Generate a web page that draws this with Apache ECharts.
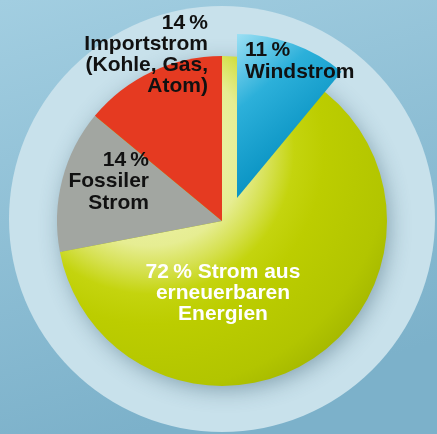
<!DOCTYPE html>
<html><head><meta charset="utf-8">
<script src="https://cdn.jsdelivr.net/npm/echarts@6/dist/echarts.min.js"></script>
<style>html,body{margin:0;padding:0;background:#8fc0d6;}#c{width:437px;height:434px;}</style>
</head><body><div id="c"></div>
<script>
// ---- data ----
const categories = ['Strom aus erneuerbaren Energien', 'Fossiler Strom', 'Importstrom (Kohle, Gas, Atom)'];
const values = [72, 14, 14];
const windCategory = 'Windstrom';
const windValue = 11;
const labelNames = [['Strom aus', 'erneuerbaren', 'Energien'], ['Fossiler', 'Strom'], ['Importstrom', '(Kohle, Gas,', 'Atom)']];

// ---- layout / style ----
const CX = 222, CY = 221, R = 165;
const WIND_CX = 237, WIND_CY = 198, WIND_R = 164;
const FONT = 'bold 21px "Liberation Sans", Arial, Helvetica, sans-serif';

const chart = echarts.init(document.getElementById('c'), null, {renderer: 'canvas'});

const greenGrad = new echarts.graphic.RadialGradient(150, 150, 300, [
  {offset: 0, color: '#f4f7c4'},
  {offset: 0.32, color: '#e6ed92'},
  {offset: 0.40, color: '#d6e152'},
  {offset: 0.48, color: '#c4d40e'},
  {offset: 0.58, color: '#bccd00'},
  {offset: 0.80, color: '#b2c500'},
  {offset: 1, color: '#97ab00'}
], true);
const windGrad = new echarts.graphic.LinearGradient(0, 0, 0.8, 0.6, [
  {offset: 0, color: '#9ce0f4'},
  {offset: 0.45, color: '#2cb0da'},
  {offset: 1, color: '#0993c3'}
]);
const sliceColors = [greenGrad, '#a2a6a1', '#e53a21'];

const pct = v => v + '\u2009%';
const labelTexts = [
  pct(values[0]) + ' ' + labelNames[0][0] + '\n' + labelNames[0].slice(1).join('\n'),
  pct(values[1]) + '\n' + labelNames[1].join('\n'),
  pct(values[2]) + '\n' + labelNames[2].join('\n')
];
const windText = pct(windValue) + '\n' + windCategory;

chart.setOption({
  animation: false,
  backgroundColor: new echarts.graphic.LinearGradient(0, 0, 0.3, 1, [
    {offset: 0, color: '#a2cee1'},
    {offset: 1, color: '#7cb1ca'}
  ]),
  graphic: [
    {type: 'circle', z: 0, shape: {cx: CX, cy: CY - 2, r: 213}, style: {fill: '#c8e1eb'}},
    {type: 'circle', z: 1, shape: {cx: CX, cy: CY, r: R - 2}, style: {fill: '#b5c800', shadowBlur: 22, shadowOffsetX: 3, shadowOffsetY: 5, shadowColor: 'rgba(40,75,95,0.45)'}},
    {type: 'text', z: 100, x: 208, y: 13, style: {text: labelTexts[2], font: FONT, textAlign: 'right', textVerticalAlign: 'top', lineHeight: 21, fill: '#111'}},
    {type: 'text', z: 100, x: 149, y: 149, style: {text: labelTexts[1], font: FONT, textAlign: 'right', textVerticalAlign: 'top', lineHeight: 21.5, fill: '#111'}},
    {type: 'text', z: 100, x: 245, y: 39, style: {text: windText, font: FONT, textAlign: 'left', textVerticalAlign: 'top', lineHeight: 22, fill: '#111'}},
    {type: 'text', z: 100, x: 223, y: 262, style: {text: labelTexts[0], font: FONT, textAlign: 'center', textVerticalAlign: 'top', lineHeight: 21, fill: '#ffffff'}}
  ],
  series: [
    {
      type: 'pie', z: 2, center: [CX, CY], radius: R, startAngle: 90, clockwise: true,
      silent: true, label: {show: false}, labelLine: {show: false},
      itemStyle: {borderWidth: 0},
      data: categories.map((c, i) => ({name: c, value: values[i], itemStyle: {color: sliceColors[i]}}))
    },
    {
      type: 'pie', z: 3, center: [WIND_CX, WIND_CY], radius: WIND_R, startAngle: 90, clockwise: true,
      silent: true, label: {show: false}, labelLine: {show: false},
      itemStyle: {borderWidth: 0},
      data: [
        {name: windCategory, value: windValue, itemStyle: {color: windGrad}},
        {name: '', value: 100 - windValue, itemStyle: {color: 'rgba(0,0,0,0)'}}
      ]
    }
  ]
});
</script>
</body></html>
